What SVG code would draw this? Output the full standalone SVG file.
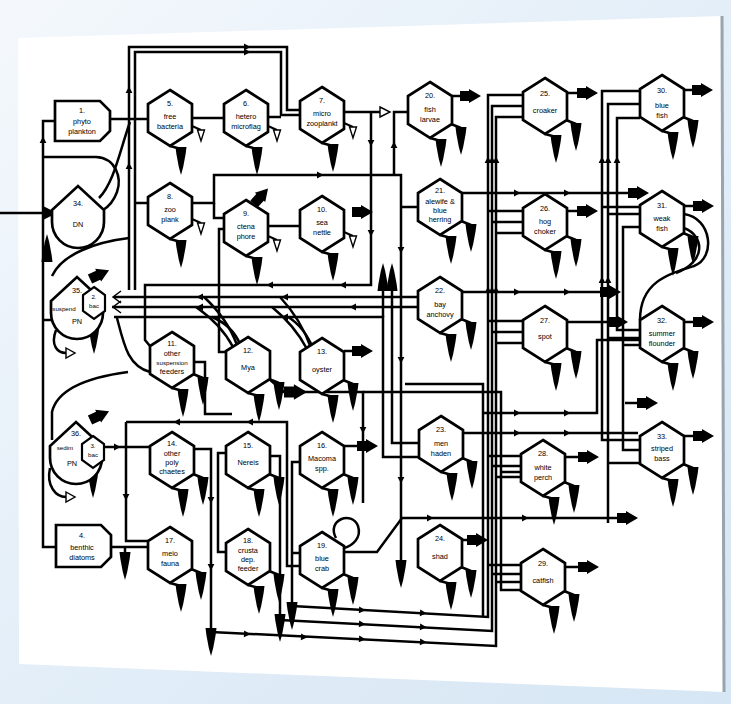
<svg xmlns="http://www.w3.org/2000/svg" xmlns:xlink="http://www.w3.org/1999/xlink" width="731" height="704" viewBox="0 0 731 704">
<style>
.ln{fill:none;stroke:#000;stroke-width:2.5;stroke-linejoin:miter}
.thin{fill:none;stroke:#000;stroke-width:1.5}
.t{font-family:"Liberation Sans","DejaVu Sans",sans-serif;font-size:7.3px;text-anchor:middle;fill:#000}
.ts{font-size:6.2px}
.box{fill:#fff;stroke:#000;stroke-width:2.7}
.hol{fill:#fff;stroke:#000;stroke-width:1.4}
</style>
<defs>
<linearGradient id="bg" x1="0" y1="0" x2="1" y2="1">
<stop offset="0" stop-color="#f4f8fc"/><stop offset="0.5" stop-color="#e3eef8"/><stop offset="1" stop-color="#d6e6f4"/>
</linearGradient>
<polygon id="hex" points="0,-28 22,-14 22,14 0,28 -22,14 -22,-14" fill="#fff" stroke="#000" stroke-width="2.7"/>
<polygon id="sink" points="-5.5,0 5.5,0 4.6,7 3.5,13 2.2,20 0,28 -2.2,20 -3.5,13 -4.6,7" fill="#000"/>
<polygon id="out" points="0,-5 9,-5 9,-7 21,0 9,7 9,5 0,5" fill="#000"/>
<polygon id="mk" points="-3,-3.4 3.6,0 -3,3.4" fill="#000"/>
<polygon id="vv" points="-3.5,0 3.5,0 0,11" fill="#fff" stroke="#000" stroke-width="1.4"/>
<g id="sA"><path d="M0,28 L11,31" stroke="#000" stroke-width="2.5" fill="none"/><use href="#sink" x="11" y="29"/></g>
<g id="sB"><path d="M21,14 L31,18" stroke="#000" stroke-width="2.5" fill="none"/><use href="#sink" x="31" y="17"/></g>
<g id="sV"><path d="M22,8 L31,12" stroke="#000" stroke-width="2" fill="none"/><use href="#vv" x="31" y="12"/></g>
<path id="tank" d="M-26,0 V-12 L0,-36 L26,-12 V0 A26,26 0 0 1 -26,0 Z" fill="#fff" stroke="#000" stroke-width="2.7"/>
<polygon id="bac" points="0,-16 11,-8 11,8 0,16 -11,8 -11,-8" fill="#fff" stroke="#000" stroke-width="2.2"/>
</defs>

<rect width="731" height="704" fill="url(#bg)"/>
<polygon points="18,38 722,16 724,692 19,664" fill="#fff"/>
<line x1="722" y1="16" x2="724" y2="692" stroke="#9aa4ae" stroke-width="3"/>

<g id="connectors">
<g class="ln">
<path d="M129,290 V47 H287 V110 H300"/>
<path d="M135,290 V52 H281 V115 H300"/>
<path d="M110,119 H148"/>
<path d="M192,118 H224"/>
<path d="M268,117 H281"/>
<path d="M344,112 H380"/>
<path d="M371,112 V285 H145 V340 L150,346"/>
<path d="M224,229 H219 V352 H226"/>
<path d="M192,203 H214 V175 H401 V562"/>
<path d="M214,203 V218 H224"/>
<path d="M408,112 H394 V175"/>
<path d="M418,207 H401"/>
<path d="M268,226 H300"/>
<path d="M0,213 H45"/>
<path d="M55,121 H43 V547 H56"/>
<path d="M43,157 H96 C116,158 122,178 117,192 C113,203 108,207 103,210"/>
<path d="M99,198 C114,183 120,150 130,122"/>
<path d="M52,276 C62,254 96,242 129,238"/>
<path d="M135,203 H148"/>
<path d="M51,320 H43"/>
<path d="M114,297 H418"/>
<path d="M112,307 H418"/>
<path d="M114,317 H383 V457 H419"/>
<path d="M392,290 V443 H419"/>
<path d="M383,290 V317"/>
<path d="M233,347 C224,330 212,318 196,307"/>
<path d="M237,345 C230,326 218,310 204,297"/>
<path d="M240,344 C234,330 224,322 212,317"/>
<path d="M307,349 C298,332 288,320 272,307"/>
<path d="M311,348 C304,328 294,312 280,297"/>
<path d="M314,350 C308,336 300,324 288,317"/>
<path d="M117,318 C124,345 128,366 150,372"/>
<path d="M194,362 H205 V414 H232"/>
<path d="M128,372 C98,376 58,386 52,412 V440"/>
<path d="M56,330 C50,346 58,353 66,353"/>
<path d="M50,468 C46,486 56,497 66,497"/>
<path d="M126,422 H287 V566 H300"/>
<path d="M126,422 V541 H148"/>
<path d="M103,447 H150"/>
<path d="M194,449 H211 V630"/>
<path d="M226,453 H218 V552 H226"/>
<path d="M270,456 H280 V616"/>
<path d="M300,462 H292 V604"/>
<path d="M292,553 H300"/>
<path d="M111,547 H148"/>
<path d="M125,547 V553"/>
<path d="M268,378 L284,392 H363 V503"/>
<path d="M363,392 H501 V590 H521"/>
<path d="M501,472 H521"/>
<path d="M405,384 H483 V616"/>
<path d="M211,632 L496,646 V117 H523"/>
<path d="M280,620 L492,631 V106 H523"/>
<path d="M292,606 L488,617 V95 H523"/>
<path d="M488,211 H523 M492,222 H523 M496,233 H523"/>
<path d="M488,321 H523 M492,332 H523 M496,343 H523"/>
<path d="M488,456 H521 M492,466 H521 M496,477 H521"/>
<path d="M488,565 H521 M492,574 H521 M496,582 H521"/>
<path d="M462,193 H628"/>
<path d="M462,292 H600"/>
<path d="M567,322 H607"/>
<path d="M462,433 H638"/>
<path d="M483,413 H597 V340 H640"/>
<path d="M625,403 H637"/>
<path d="M344,552 H377 L402,518 H617"/>
<path d="M640,91 H602 V440 H640"/>
<path d="M640,104 H608 V523"/>
<path d="M608,463 H640"/>
<path d="M640,118 H617 V330 H640"/>
<path d="M640,227 H623 V450 H640"/>
<path d="M602,207 H640 M608,214 H640"/>
<path d="M608,338 H640 M623,345 H640"/>
<path d="M684,214 C712,218 716,258 694,266 C668,274 640,282 640,320"/>
<path d="M684,228 C705,236 706,262 676,273"/>
<path d="M336,538 C326,520 352,510 358,526 C362,538 352,546 344,548"/>
<path d="M94,319 V327"/>
<path d="M93,468 V471"/>
</g>
<path class="thin" d="M121,291 L113,297 L121,303 M121,301 L113,307 L121,313"/>
<polygon points="43,206 57,213 43,220" fill="#000"/>
<polygon class="hol" points="380,107 390,112 380,117"/>
<polygon class="hol" points="66,348 75,353 66,358"/>
<polygon class="hol" points="66,492 75,497 66,502"/>
<use href="#sink" x="125" y="552"/>
<use href="#sink" x="211" y="628"/>
<use href="#sink" x="280" y="614"/>
<use href="#sink" x="292" y="602"/>
<use href="#sink" x="401" y="560"/>
<use href="#sink" x="94" y="326"/>
<use href="#sink" x="93" y="470"/>
<use href="#sink" transform="translate(383,291) rotate(180)"/>
<use href="#sink" transform="translate(392,291) rotate(180)"/>
<use href="#sink" transform="translate(47,262) rotate(180)"/>
<use href="#out" transform="translate(90,279) rotate(-25)"/>
<use href="#out" transform="translate(90,420) rotate(-25)"/>
<use href="#out" x="352" y="212"/>
<use href="#out" x="628" y="193"/>
<use href="#out" x="600" y="292"/>
<use href="#out" x="607" y="322"/>
<use href="#out" x="637" y="403"/>
<use href="#out" x="617" y="518"/>
<use href="#out" transform="translate(284,392) scale(1.1)"/>
<g id="marks">
<use href="#mk" transform="translate(247,47)"/>
<use href="#mk" transform="translate(247,52)"/>
<use href="#mk" transform="translate(129,90) rotate(-90)"/>
<use href="#mk" transform="translate(129,166) rotate(-90)"/>
<use href="#mk" transform="translate(43,140) rotate(-90)"/>
<use href="#mk" transform="translate(371,143) rotate(90)"/>
<use href="#mk" transform="translate(371,233) rotate(90)"/>
<use href="#mk" transform="translate(270,285) rotate(180)"/>
<use href="#mk" transform="translate(343,285) rotate(180)"/>
<use href="#mk" transform="translate(320,175)"/>
<use href="#mk" transform="translate(394,145) rotate(-90)"/>
<use href="#mk" transform="translate(401,250) rotate(90)"/>
<use href="#mk" transform="translate(401,360) rotate(90)"/>
<use href="#mk" transform="translate(401,480) rotate(90)"/>
<use href="#mk" transform="translate(200,297) rotate(180)"/>
<use href="#mk" transform="translate(285,297) rotate(180)"/>
<use href="#mk" transform="translate(200,307) rotate(180)"/>
<use href="#mk" transform="translate(353,307) rotate(180)"/>
<use href="#mk" transform="translate(285,317) rotate(180)"/>
<use href="#mk" transform="translate(177,422) rotate(180)"/>
<use href="#mk" transform="translate(250,422) rotate(180)"/>
<use href="#mk" transform="translate(126,497) rotate(90)"/>
<use href="#mk" transform="translate(117,447)"/>
<use href="#mk" transform="translate(211,500) rotate(90)"/>
<use href="#mk" transform="translate(211,567) rotate(90)"/>
<use href="#mk" transform="translate(517,193)"/>
<use href="#mk" transform="translate(567,193)"/>
<use href="#mk" transform="translate(517,292)"/>
<use href="#mk" transform="translate(567,292)"/>
<use href="#mk" transform="translate(517,413)"/>
<use href="#mk" transform="translate(567,413)"/>
<use href="#mk" transform="translate(517,433)"/>
<use href="#mk" transform="translate(567,433)"/>
<use href="#mk" transform="translate(430,518)"/>
<use href="#mk" transform="translate(525,518)"/>
<use href="#mk" transform="translate(247,634) rotate(3)"/>
<use href="#mk" transform="translate(304,637) rotate(3)"/>
<use href="#mk" transform="translate(362,639) rotate(3)"/>
<use href="#mk" transform="translate(423,642) rotate(3)"/>
<use href="#mk" transform="translate(362,624) rotate(3)"/>
<use href="#mk" transform="translate(423,627) rotate(3)"/>
<use href="#mk" transform="translate(362,610) rotate(3)"/>
<use href="#mk" transform="translate(423,613) rotate(3)"/>
<use href="#mk" transform="translate(488,160) rotate(-90)"/>
<use href="#mk" transform="translate(492,160) rotate(-90)"/>
<use href="#mk" transform="translate(496,160) rotate(-90)"/>
<use href="#mk" transform="translate(488,290) rotate(-90)"/>
<use href="#mk" transform="translate(492,290) rotate(-90)"/>
<use href="#mk" transform="translate(496,290) rotate(-90)"/>
<use href="#mk" transform="translate(602,160) rotate(-90)"/>
<use href="#mk" transform="translate(608,160) rotate(-90)"/>
<use href="#mk" transform="translate(617,160) rotate(-90)"/>
<use href="#mk" transform="translate(602,280) rotate(-90)"/>
<use href="#mk" transform="translate(608,280) rotate(-90)"/>
<use href="#mk" transform="translate(363,430) rotate(90)"/>
</g>
</g>

<g id="n1"><path class="box" d="M55,101 H100 L110,111 V131 L100,141 H55 Z"/><text class="t" x="82" y="113">1.</text><text class="t" x="82" y="124">phyto</text><text class="t" x="82" y="134">plankton</text></g>
<g id="n4"><path class="box" d="M56,525 H101 L111,535 V557 L101,567 H56 Z"/><text class="t" x="82" y="538">4.</text><text class="t" x="82" y="550">benthic</text><text class="t" x="82" y="560">diatoms</text></g>
<g id="n34" transform="translate(78,222)"><use href="#tank"/><text class="t" y="-16">34.</text><text class="t" y="5">DN</text></g>
<g id="n35" transform="translate(77,313)"><use href="#tank"/><text class="t" y="-20">35.</text><text class="t ts" x="-13" y="-2">suspend</text><text class="t" y="11">PN</text>
<g transform="translate(17,-10)"><use href="#bac"/><text class="t ts" y="-4">2.</text><text class="t ts" y="5">bac</text></g></g>
<g id="n36" transform="translate(76,458)"><use href="#tank"/><text class="t" y="-22">36.</text><text class="t ts" x="-11" y="-8">sedim</text><text class="t" x="-4" y="8">PN</text>
<g transform="translate(17,-6)"><use href="#bac"/><text class="t ts" y="-4">3.</text><text class="t ts" y="5">bac</text></g></g>

<g id="n5" transform="translate(170,118)"><use href="#hex"/><use href="#sA"/><use href="#sV"/><text class="t" y="-12">5.</text><text class="t" y="1">free</text><text class="t" y="11">bacteria</text></g>
<g id="n6" transform="translate(246,118)"><use href="#hex"/><use href="#sA"/><use href="#sV"/><text class="t" y="-12">6.</text><text class="t" y="1">hetero</text><text class="t" y="11">microflag</text></g>
<g id="n7" transform="translate(322,115)"><use href="#hex"/><use href="#sA"/><use href="#sV"/><text class="t" y="-12">7.</text><text class="t" y="1">micro</text><text class="t" y="11">zooplankt</text></g>
<g id="n20" transform="translate(430,110)"><use href="#hex"/><use href="#sA"/><use href="#sB"/><path class="ln" d="M22,-14 H30"/><use href="#out" x="30" y="-14"/><text class="t" y="-12">20.</text><text class="t" y="2">fish</text><text class="t" y="12">larvae</text></g>
<g id="n25" transform="translate(545,106)"><use href="#hex"/><use href="#sA"/><use href="#sB"/><path class="ln" d="M22,-13 H32"/><use href="#out" x="32" y="-13"/><text class="t" y="-10">25.</text><text class="t" y="7">croaker</text></g>
<g id="n30" transform="translate(662,103)"><use href="#hex"/><use href="#sA"/><use href="#sB"/><path class="ln" d="M22,-13 H30"/><use href="#out" x="30" y="-13"/><text class="t" y="-10">30.</text><text class="t" y="5">blue</text><text class="t" y="15">fish</text></g>
<g id="n8" transform="translate(170,211)"><use href="#hex"/><use href="#sA"/><use href="#sV"/><text class="t" y="-12">8.</text><text class="t" y="1">zoo</text><text class="t" y="11">plank</text></g>
<g id="n9" transform="translate(246,228)"><use href="#hex"/><use href="#sA"/><use href="#sV"/><use href="#out" transform="translate(8,-24) rotate(-48)"/><text class="t" y="-12">9.</text><text class="t" y="1">ctena</text><text class="t" y="11">phore</text></g>
<g id="n10" transform="translate(322,224)"><use href="#hex"/><use href="#sA"/><use href="#sV"/><text class="t" y="-12">10.</text><text class="t" y="1">sea</text><text class="t" y="11">nettle</text></g>
<g id="n21" transform="translate(440,207)"><use href="#hex"/><use href="#sA"/><use href="#sB"/><text class="t" y="-14">21.</text><text class="t" y="-3">alewife &amp;</text><text class="t" y="6">blue</text><text class="t" y="15">herring</text></g>
<g id="n26" transform="translate(545,222)"><use href="#hex"/><use href="#sA"/><use href="#sB"/><path class="ln" d="M22,-11 H32"/><use href="#out" x="32" y="-11"/><text class="t" y="-11">26.</text><text class="t" y="2">hog</text><text class="t" y="12">choker</text></g>
<g id="n31" transform="translate(662,219)"><use href="#hex"/><use href="#sA"/><use href="#sB"/><path class="ln" d="M22,-13 H31"/><use href="#out" x="31" y="-13"/><text class="t" y="-11">31.</text><text class="t" y="2">weak</text><text class="t" y="12">fish</text></g>
<g id="n11" transform="translate(172,360)"><use href="#hex"/><use href="#sA"/><use href="#sB"/><text class="t" y="-14">11.</text><text class="t" y="-4">other</text><text class="t ts" y="5">suspension</text><text class="t" y="14">feeders</text></g>
<g id="n12" transform="translate(248,365)"><use href="#hex"/><use href="#sA"/><use href="#sB"/><text class="t" y="-12">12.</text><text class="t" y="5">Mya</text></g>
<g id="n13" transform="translate(322,366)"><use href="#hex"/><use href="#sA"/><use href="#sB"/><path class="ln" d="M22,-15 H30"/><use href="#out" x="30" y="-15"/><text class="t" y="-12">13.</text><text class="t" y="6">oyster</text></g>
<g id="n22" transform="translate(440,305)"><use href="#hex"/><use href="#sA"/><use href="#sB"/><text class="t" y="-12">22.</text><text class="t" y="2">bay</text><text class="t" y="12">anchovy</text></g>
<g id="n27" transform="translate(545,334)"><use href="#hex"/><use href="#sA"/><use href="#sB"/><text class="t" y="-11">27.</text><text class="t" y="5">spot</text></g>
<g id="n32" transform="translate(662,334)"><use href="#hex"/><use href="#sA"/><use href="#sB"/><path class="ln" d="M22,-12 H31"/><use href="#out" x="31" y="-12"/><text class="t" y="-11">32.</text><text class="t" y="2">summer</text><text class="t" y="12">flounder</text></g>
<g id="n14" transform="translate(172,460)"><use href="#hex"/><use href="#sA"/><use href="#sB"/><text class="t" y="-14">14.</text><text class="t" y="-4">other</text><text class="t" y="5">poly</text><text class="t" y="14">chaetes</text></g>
<g id="n15" transform="translate(248,460)"><use href="#hex"/><use href="#sA"/><use href="#sB"/><text class="t" y="-12">15.</text><text class="t" y="5">Nereis</text></g>
<g id="n16" transform="translate(322,460)"><use href="#hex"/><use href="#sA"/><use href="#sB"/><path class="ln" d="M22,-14 H35"/><use href="#out" x="35" y="-14"/><text class="t" y="-12">16.</text><text class="t" y="1">Macoma</text><text class="t" y="11">spp.</text></g>
<g id="n23" transform="translate(441,444)"><use href="#hex"/><use href="#sA"/><use href="#sB"/><text class="t" y="-12">23.</text><text class="t" y="2">men</text><text class="t" y="12">haden</text></g>
<g id="n28" transform="translate(543,468)"><use href="#hex"/><use href="#sA"/><use href="#sB"/><path class="ln" d="M22,-11 H35"/><use href="#out" x="35" y="-11"/><text class="t" y="-12">28.</text><text class="t" y="2">white</text><text class="t" y="12">perch</text></g>
<g id="n33" transform="translate(662,450)"><use href="#hex"/><use href="#sA"/><use href="#sB"/><path class="ln" d="M22,-14 H31"/><use href="#out" x="31" y="-14"/><text class="t" y="-11">33.</text><text class="t" y="1">striped</text><text class="t" y="11">bass</text></g>
<g id="n17" transform="translate(170,555)"><use href="#hex"/><use href="#sA"/><use href="#sB"/><text class="t" y="-12">17.</text><text class="t" y="1">meio</text><text class="t" y="11">fauna</text></g>
<g id="n18" transform="translate(248,557)"><use href="#hex"/><use href="#sA"/><use href="#sB"/><text class="t" y="-14">18.</text><text class="t" y="-4">crusta</text><text class="t" y="5">dep.</text><text class="t" y="14">feeder</text></g>
<g id="n19" transform="translate(322,560)"><use href="#hex"/><use href="#sA"/><use href="#sB"/><text class="t" y="-12">19.</text><text class="t" y="1">blue</text><text class="t" y="11">crab</text></g>
<g id="n24" transform="translate(440,553)"><use href="#hex"/><use href="#sA"/><use href="#sB"/><path class="ln" d="M22,-13 H27"/><use href="#out" x="27" y="-13"/><text class="t" y="-12">24.</text><text class="t" y="6">shad</text></g>
<g id="n29" transform="translate(543,577)"><use href="#hex"/><use href="#sA"/><use href="#sB"/><path class="ln" d="M22,-10 H35"/><use href="#out" x="35" y="-10"/><text class="t" y="-11">29.</text><text class="t" y="6">catfish</text></g>
</svg>
